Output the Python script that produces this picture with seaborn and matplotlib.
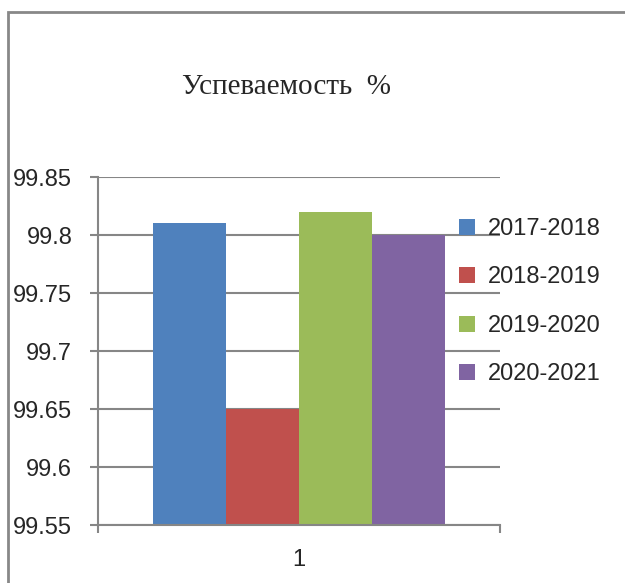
import numpy as np
import pandas as pd
import seaborn as sns
import matplotlib.pyplot as plt
from matplotlib.patches import Rectangle

sns.set_style('white')
plt.rcParams['font.family'] = ['Liberation Sans', 'DejaVu Sans']

years = ['2017-2018', '2018-2019', '2019-2020', '2020-2021']
values = [99.81, 99.65, 99.82, 99.80]
colors = ['#4F81BD', '#C0504D', '#9BBB59', '#8064A2']
category = ['1', '1', '1', '1']

df = pd.DataFrame({'cat': category, 'year': years, 'val': values})

fig = plt.figure(figsize=(6.25, 5.83), dpi=100)
ax = fig.add_axes([98/625, 1-525/583, 402/625, 348/583])

sns.barplot(data=df, x='cat', y='val', hue='year', palette=colors,
            width=0.726, saturation=1, linewidth=0, ax=ax, legend=True)

ax.set_ylim(99.55, 99.85)
ax.set_xlim(-0.5, 0.5)
ax.set_yticks(np.arange(99.55, 99.851, 0.05))
ax.set_yticklabels(['99.55', '99.6', '99.65', '99.7', '99.75', '99.8', '99.85'])
ax.set_xticks([-0.5, 0.5], minor=False)
ax.set_xticklabels(['', ''])
ax.set_xticks([0], minor=True)
ax.set_xticklabels(['1'], minor=True)
ax.tick_params(axis='x', which='minor', length=0, pad=17, labelsize=17)
ax.tick_params(axis='x', which='major', length=6, width=1.5, color='#868686', direction='out')
ax.tick_params(axis='y', length=6, width=1.5, color='#868686', labelsize=17, pad=12.5, direction='out')
ax.tick_params(left=True, bottom=True)

ax.grid(axis='y', color='#868686', linewidth=1.5)
ax.set_axisbelow(True)
for s in ['top', 'right']:
    ax.spines[s].set_visible(False)
for s in ['left', 'bottom']:
    ax.spines[s].set_color('#868686')
    ax.spines[s].set_linewidth(1.5)
ax.set_xlabel('')
ax.set_ylabel('')

leg = ax.legend(loc='upper left', bbox_to_anchor=(459/625, 1-218/583),
                bbox_transform=fig.transFigure, frameon=False, fontsize=17,
                handlelength=0.66, handleheight=0.66, handletextpad=0.55,
                labelspacing=1.12, borderpad=0, borderaxespad=0)

fig.text(287/625, 1-87/583, 'Успеваемость  %', ha='center', va='center',
         fontsize=21, family=['Liberation Serif', 'DejaVu Serif'])

fig.patches.append(Rectangle((8/625, -0.1), 1.2, 1 - 12/583 + 0.1,
                             transform=fig.transFigure, fill=False,
                             edgecolor='#888888', linewidth=2))

fig.savefig('out.png', dpi=100)
